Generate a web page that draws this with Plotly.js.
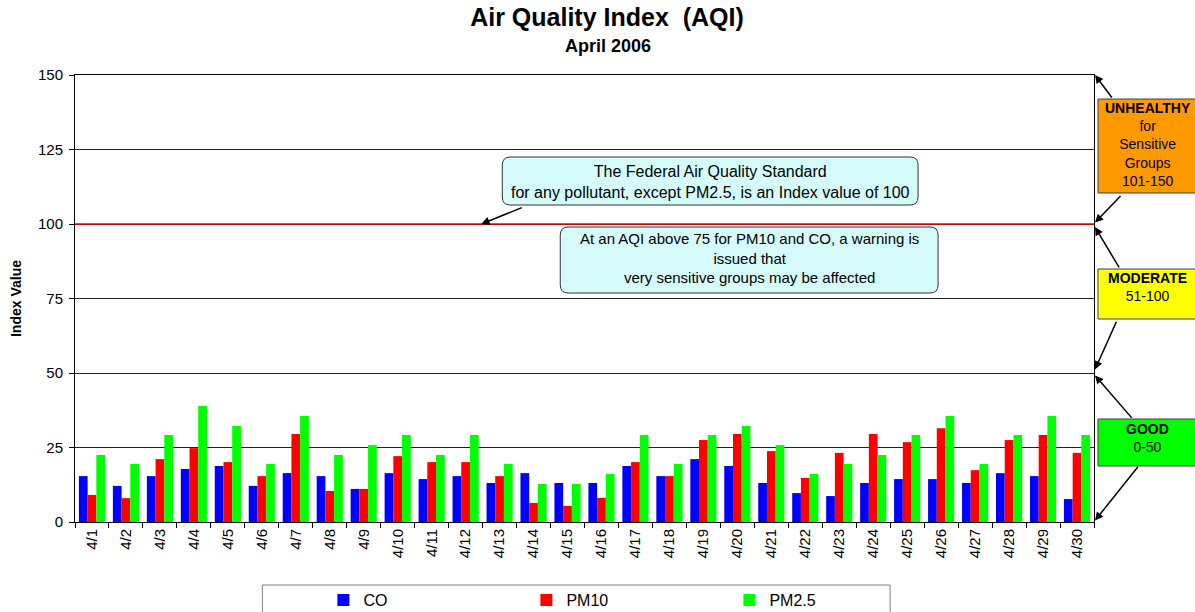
<!DOCTYPE html>
<html>
<head>
<meta charset="utf-8">
<script src="https://cdn.plot.ly/plotly-3.0.1.min.js"></script>
<style>html,body{margin:0;padding:0;background:#fff;}#chart{width:1195px;height:612px;}</style>
</head>
<body>
<div id="chart"></div>
<script>
// ---- data ----
const days = ["4/1","4/2","4/3","4/4","4/5","4/6","4/7","4/8","4/9","4/10","4/11","4/12","4/13","4/14","4/15","4/16","4/17","4/18","4/19","4/20","4/21","4/22","4/23","4/24","4/25","4/26","4/27","4/28","4/29","4/30"];
const co   = [15.4,12.1,15.4,17.8,18.8,12.1,16.4,15.4,11.1,16.4,14.4,15.4,13.1,16.4,13.1,13.1,18.8,15.4,21.1,18.8,13.1,9.7,8.7,13.1,14.4,14.4,13.1,16.4,15.4,7.7];
const pm10 = [9.1,8.0,21.1,24.8,20.1,15.4,29.5,10.4,11.1,22.1,20.1,20.1,15.4,6.4,5.4,8.1,20.1,15.4,27.5,29.5,23.8,14.8,23.2,29.5,26.8,31.5,17.4,27.5,29.2,23.2];
const pm25 = [22.5,19.5,29.2,38.9,32.2,19.5,35.6,22.5,25.8,29.2,22.5,29.2,19.5,12.8,12.8,16.1,29.2,19.5,29.2,32.2,25.8,16.1,19.5,22.5,29.2,35.6,19.5,29.2,35.6,29.2];
const seriesNames = ["CO","PM10","PM2.5"];
const yTicks = [0,25,50,75,100,125,150];
const standard = 100;

// ---- layout helpers (pixel -> paper) ----
const W = 1195, H = 612, L = 74.5, R = 101, T = 75, B = 90;
const PW = W - L - R, PH = H - T - B;
const px = x => (x - L) / PW;
const py = y => (H - B - y) / PH;
const FONT = "Arial, 'Liberation Sans', sans-serif";

function roundRect(x0, y0, x1, y1, r) {
  const p = (x, y) => px(x) + "," + py(y);
  return "M" + p(x0 + r, y0) + " L" + p(x1 - r, y0) + " Q" + p(x1, y0) + " " + p(x1, y0 + r) +
         " L" + p(x1, y1 - r) + " Q" + p(x1, y1) + " " + p(x1 - r, y1) +
         " L" + p(x0 + r, y1) + " Q" + p(x0, y1) + " " + p(x0, y1 - r) +
         " L" + p(x0, y0 + r) + " Q" + p(x0, y0) + " " + p(x0 + r, y0) + " Z";
}
function rect(x0, y0, x1, y1, fill, line) {
  return {type: "rect", xref: "paper", yref: "paper", x0: px(x0), x1: px(x1), y0: py(y1), y1: py(y0),
          fillcolor: fill, line: {color: line, width: 1}, layer: "above"};
}
function arrow(tipX, tipVal, ax, ay) {
  return {xref: "paper", yref: "y", x: px(tipX), y: tipVal, ax: ax, ay: ay, text: "",
          showarrow: true, arrowhead: 2, arrowsize: 1.1, arrowwidth: 1.5, arrowcolor: "#000"};
}
function label(cx, cy, text, size) {
  return {xref: "paper", yref: "paper", x: px(cx), y: py(cy), text: text, showarrow: false,
          xanchor: "center", yanchor: "middle", align: "center",
          font: {family: FONT, size: size, color: "#000"}};
}

const colors = ["#0000ff", "#ff0000", "#00ff00"];
const values = [co, pm10, pm25];
const traces = seriesNames.map((n, i) => ({
  type: "bar", name: n, x: days, y: values[i], marker: {color: colors[i], line: {width: 0}},
  hoverinfo: "x+y+name"
}));

const layout = {
  width: W, height: H,
  margin: {l: L, r: R, t: T, b: B, autoexpand: false},
  paper_bgcolor: "#fff", plot_bgcolor: "#fff",
  font: {family: FONT, color: "#000"},
  barmode: "group", bargap: 0.23, bargroupgap: 0,
  title: {
    text: "<b>Air Quality Index&nbsp; (AQI)</b>",
    font: {family: FONT, size: 25, color: "#000"},
    x: 607 / W, xanchor: "center", xref: "container",
    y: 1 - 8 / H, yanchor: "top", yref: "container"
  },
  xaxis: {
    type: "category", tickangle: -90, ticks: "outside", tickson: "boundaries", ticklen: 5,
    tickcolor: "#000", showline: true, linecolor: "#000", linewidth: 1, mirror: true,
    showgrid: false, automargin: false, tickfont: {family: FONT, size: 15, color: "#000"}
  },
  yaxis: {
    range: [0, 150], tickvals: yTicks, ticks: "outside", ticklen: 5, tickcolor: "#000",
    showline: true, linecolor: "#000", linewidth: 1, mirror: true, ticklabelstandoff: 3,
    showgrid: true, gridcolor: "#222", gridwidth: 1, zeroline: false, automargin: false,
    tickfont: {family: FONT, size: 15, color: "#000"},
    title: {text: "<b>Index Value</b>", font: {family: FONT, size: 14, color: "#000"}, standoff: 13}
  },
  showlegend: true,
  legend: {
    orientation: "h", x: px(323), xanchor: "left", y: py(600), yanchor: "middle",
    entrywidth: 158, entrywidthmode: "pixels", bgcolor: "rgba(0,0,0,0)", borderwidth: 0,
    font: {family: FONT, size: 16, color: "#000"}, traceorder: "normal"
  },
  shapes: [
    {type: "line", xref: "paper", yref: "y", x0: 0, x1: 1, y0: standard, y1: standard,
     line: {color: "#ff0000", width: 1.6}, layer: "above"},
    {type: "path", xref: "paper", yref: "paper", path: roundRect(502, 157, 918, 205, 8),
     fillcolor: "#d6fbfb", line: {color: "#333", width: 1}, layer: "above"},
    {type: "path", xref: "paper", yref: "paper", path: roundRect(560, 227, 938, 293, 8),
     fillcolor: "#d6fbfb", line: {color: "#333", width: 1}, layer: "above"},
    rect(1098, 99, 1199, 193, "#ff9900", "#404040"),
    rect(1098, 269, 1199, 319, "#ffff00", "#404040"),
    rect(1098, 419, 1199, 466, "#00ff00", "#404040"),
    {type: "rect", xref: "paper", yref: "paper", x0: px(262), x1: px(890), y0: py(620), y1: py(585),
     fillcolor: "rgba(0,0,0,0)", line: {color: "#808080", width: 1}}
  ],
  annotations: [
    label(608, 46, "<b>April 2006</b>", 18),
    label(710, 182, "The Federal Air Quality Standard<br>for any pollutant, except PM2.5, is an Index value of 100", 16),
    label(749, 258, "At an AQI above 75 for PM10 and CO, a warning is<br>issued that<br>very sensitive groups may be affected", 15),
    label(1148, 144, "<b>UNHEALTHY</b><br>for<br>Sensitive<br>Groups<br>101-150", 14),
    label(1148, 287, "<b>MODERATE</b><br>51-100", 14),
    label(1148, 438, "<b>GOOD</b><br>0-50", 14),
    arrow(481, standard, 42, -17),
    arrow(1095, 150, 18, 24),
    arrow(1095, 100.5, 27, -28),
    arrow(1095, 99, 25, 42),
    arrow(1095, 51.2, 22, -49),
    arrow(1095, 49.2, 38, 44),
    arrow(1095, 0.5, 44, -55)
  ]
};

Plotly.newPlot("chart", traces, layout, {displayModeBar: false, staticPlot: true});
</script>
</body>
</html>
